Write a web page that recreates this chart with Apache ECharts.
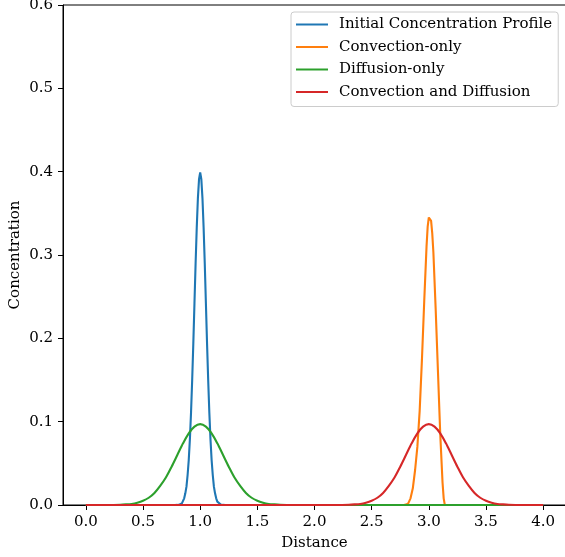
<!DOCTYPE html>
<html>
<head>
<meta charset="utf-8">
<script src="https://cdn.jsdelivr.net/npm/echarts@6/dist/echarts.min.js"></script>
<style>
  html, body { margin: 0; padding: 0; background: #fff; }
  #main { width: 565px; height: 557px; }
</style>
</head>
<body>
<div id="main"></div>
<script>
// tick labels
var xTicks = [0, 0.5, 1, 1.5, 2, 2.5, 3, 3.5, 4];
var yTicks = [0, 0.1, 0.2, 0.3, 0.4, 0.5, 0.6];

// Initial Concentration Profile
var initX = [0, 0.78, 0.80, 0.82, 0.84, 0.85, 0.86, 0.87, 0.88, 0.89, 0.90, 0.91, 0.92, 0.93, 0.94, 0.95, 0.96, 0.97, 0.98, 0.99, 1.00,
             1.01, 1.02, 1.03, 1.04, 1.05, 1.06, 1.07, 1.08, 1.09, 1.10, 1.11, 1.12, 1.13, 1.14, 1.15, 1.16, 1.18, 1.20, 1.22, 4];
var initY = [0, 0, 0.0001, 0.0006, 0.002, 0.004, 0.008, 0.014, 0.022, 0.036, 0.054, 0.079, 0.111, 0.150, 0.194, 0.242, 0.290, 0.333, 0.368, 0.391, 0.399,
             0.391, 0.368, 0.333, 0.290, 0.242, 0.194, 0.150, 0.111, 0.079, 0.054, 0.036, 0.022, 0.014, 0.008, 0.004, 0.002, 0.0006, 0.0001, 0, 0];

// Convection-only
var convX = [0, 2.78, 2.80, 2.82, 2.84, 2.86, 2.88, 2.90, 2.92, 2.94, 2.96, 2.98, 2.99, 3.00, 3.01, 3.02, 3.03, 3.04, 3.06, 3.08, 3.10, 3.12, 3.13, 3.14, 4];
var convY = [0, 0, 0.0005, 0.002, 0.008, 0.02, 0.042, 0.07, 0.113, 0.175, 0.245, 0.31, 0.334, 0.345, 0.347, 0.341, 0.326, 0.303, 0.235, 0.16, 0.085, 0.027, 0.008, 0, 0];

// Diffusion-only
var diffX = [0, 0.2, 0.3, 0.35, 0.4, 0.45, 0.5, 0.55, 0.6, 0.65, 0.7, 0.75, 0.8, 0.85, 0.9, 0.95, 1.0,
             1.05, 1.1, 1.15, 1.2, 1.25, 1.3, 1.35, 1.4, 1.45, 1.5, 1.55, 1.6, 1.65, 1.7, 1.8, 4];
var diffY = [0, 0, 0.0003, 0.0007, 0.0013, 0.0027, 0.005, 0.0087, 0.0145, 0.023, 0.033, 0.046, 0.060, 0.074, 0.086, 0.094, 0.097,
             0.094, 0.086, 0.074, 0.060, 0.046, 0.033, 0.023, 0.0145, 0.0087, 0.005, 0.0027, 0.0013, 0.0007, 0.0003, 0, 0];

// Convection and Diffusion
var bothX = [0, 2.2, 2.3, 2.35, 2.4, 2.45, 2.5, 2.55, 2.6, 2.65, 2.7, 2.75, 2.8, 2.85, 2.9, 2.95, 3.0,
             3.05, 3.1, 3.15, 3.2, 3.25, 3.3, 3.35, 3.4, 3.45, 3.5, 3.55, 3.6, 3.65, 3.7, 3.8, 4];
var bothY = [0, 0, 0.0003, 0.0007, 0.0013, 0.0027, 0.005, 0.0087, 0.0145, 0.023, 0.033, 0.046, 0.060, 0.074, 0.086, 0.094, 0.097,
             0.094, 0.086, 0.074, 0.060, 0.046, 0.033, 0.023, 0.0145, 0.0087, 0.005, 0.0027, 0.0013, 0.0007, 0.0003, 0, 0];

var names = ['Initial Concentration Profile', 'Convection-only', 'Diffusion-only', 'Convection and Diffusion'];
var colors = ['#1f77b4', '#ff7f0e', '#2ca02c', '#d62728'];
var smoothing = [0, 0, 0.3, 0.3];

function pairs(xs, ys) {
    var out = [];
    for (var i = 0; i < xs.length; i++) {
        out.push([xs[i], ys[i]]);
    }
    return out;
}

var font = 'DejaVu Serif';
var fs = 15;
var allData = [pairs(initX, initY), pairs(convX, convY), pairs(diffX, diffY), pairs(bothX, bothY)];

var series = [];
for (var i = 0; i < names.length; i++) {
    series.push({
        name: names[i],
        type: 'line',
        data: allData[i],
        showSymbol: false,
        symbol: 'none',
        smooth: smoothing[i],
        lineStyle: { color: colors[i], width: 2.1 },
        itemStyle: { color: colors[i] }
    });
}

var option = {
    backgroundColor: '#fff',
    animation: false,
    textStyle: { fontFamily: font },
    grid: {
        left: 63, top: 5, right: -1, bottom: 52,
        containLabel: false, outerBoundsMode: 'none',
        show: true, borderColor: '#000', borderWidth: 1
    },
    legend: {
        orient: 'vertical',
        left: 291,
        top: 12,
        padding: [4, 6, 6, 5],
        itemGap: 5.5,
        itemWidth: 32,
        itemHeight: 2,
        icon: 'rect',
        backgroundColor: '#fff',
        borderColor: '#cccccc',
        borderWidth: 1,
        borderRadius: 3,
        textStyle: { fontFamily: font, fontSize: fs, color: '#000', lineHeight: 17, padding: [0, 0, 0, 6] },
        data: names
    },
    xAxis: {
        type: 'value',
        min: -0.2,
        max: 4.2,
        name: 'Distance',
        nameLocation: 'middle',
        nameGap: 31,
        nameMoveOverlap: false,
        nameTextStyle: { fontFamily: font, fontSize: fs, color: '#000' },
        axisLine: { show: true, onZero: false, lineStyle: { color: '#000', width: 1 } },
        axisTick: { show: true, length: 5, lineStyle: { color: '#000' }, customValues: xTicks },
        axisLabel: {
            fontFamily: font, fontSize: fs, color: '#000', margin: 10,
            customValues: xTicks,
            formatter: function(v) { return v.toFixed(1); }
        },
        splitLine: { show: false }
    },
    yAxis: {
        type: 'value',
        min: 0,
        max: 0.6,
        interval: 0.1,
        name: 'Concentration',
        nameLocation: 'middle',
        nameGap: 40,
        nameMoveOverlap: false,
        nameTextStyle: { fontFamily: font, fontSize: fs, color: '#000' },
        axisLine: { show: true, onZero: false, lineStyle: { color: '#000', width: 1 } },
        axisTick: { show: true, length: 5, lineStyle: { color: '#000' }, customValues: yTicks },
        axisLabel: {
            fontFamily: font, fontSize: fs, color: '#000', margin: 10,
            customValues: yTicks,
            formatter: function(v) { return v.toFixed(1); }
        },
        splitLine: { show: false }
    },
    series: series
};

var myChart = echarts.init(document.getElementById('main'), null, { renderer: 'canvas' });
myChart.setOption(option);
</script>
</body>
</html>
